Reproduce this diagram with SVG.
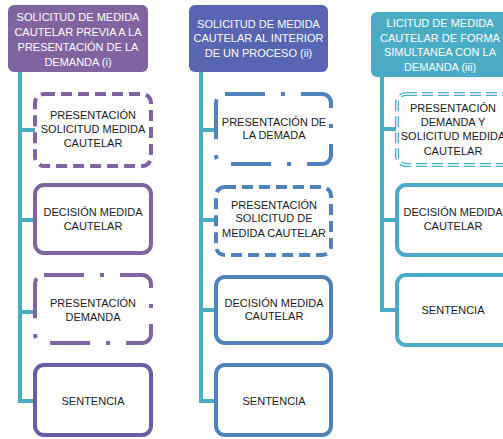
<svg xmlns="http://www.w3.org/2000/svg" width="503" height="439" viewBox="0 0 503 439">
<style>
text{font-family:"Liberation Sans",Arial,sans-serif;font-size:11px;text-anchor:middle;fill:#1a1a1a}
.h text{fill:#fff}
.box{fill:#fff;stroke-width:4}
.p{stroke:#8064A2}
.b{stroke:#4F81BD}
.c{stroke:#4BACC6}
.dash{stroke-dasharray:11 6}
.dd{stroke-dasharray:40 16 4 16}
.conn{fill:none;stroke:#4BACC6;stroke-width:4}
</style>
<rect width="503" height="439" fill="#fff"/>
<g id="connectors">
<path class="conn" d="M20 72V401H35M20 130H35M20 220H35M20 312H35"/>
<path class="conn" d="M201 72V401H216M201 130H216M201 220H216M201 310H216"/>
<path class="conn" d="M382 77V310H397M382 129H397M382 220H397"/>
</g>
<g id="h1" class="h"><rect x="8" y="5" width="140" height="67" rx="6" fill="#8064A2"/>
<text x="78" y="20.5">SOLICITUD DE MEDIDA</text><text x="78" y="35.5">CAUTELAR  PREVIA A LA</text><text x="78" y="50.5">PRESENTACIÓN DE LA</text><text x="78" y="65.5">DEMANDA (i)</text></g>
<g id="h2" class="h"><rect x="189" y="5" width="139" height="67" rx="6" fill="#5865B2"/>
<text x="258.5" y="27.5">SOLICITUD DE MEDIDA</text><text x="258.5" y="42">CAUTELAR AL INTERIOR</text><text x="258.5" y="56.5">DE UN PROCESO (ii)</text></g>
<g id="h3" class="h"><rect x="371" y="12" width="139" height="65" rx="6" fill="#4BACC6"/>
<text x="440" y="27">LICITUD DE MEDIDA</text><text x="440" y="41.5">CAUTELAR DE FORMA</text><text x="440" y="56">SIMULTANEA CON LA</text><text x="440" y="70.5">DEMANDA (iii)</text></g>
<g id="n1a"><rect class="box p dash" x="35" y="94" width="116" height="72" rx="9"/>
<text x="93" y="118.5">PRESENTACIÓN</text><text x="93" y="132.5">SOLICITUD MEDIDA</text><text x="93" y="146.5">CAUTELAR</text></g>
<g id="n1b"><rect class="box p" x="35" y="185" width="116" height="68" rx="9"/>
<text x="93" y="215.5">DECISIÓN MEDIDA</text><text x="93" y="230">CAUTELAR</text></g>
<g id="n1c"><rect class="box p dd" x="35" y="275" width="116" height="68" rx="9"/>
<text x="93" y="306.5">PRESENTACIÓN</text><text x="93" y="320.5">DEMANDA</text></g>
<g id="n1d"><rect class="box" stroke="#6A5CAB" x="35" y="365" width="116" height="70" rx="9"/>
<text x="93" y="405">SENTENCIA</text></g>
<g id="n2a"><rect class="box b dd" x="216" y="94" width="115" height="70" rx="9"/>
<text x="274" y="125.5">PRESENTACIÓN DE</text><text x="274" y="139">LA DEMADA</text></g>
<g id="n2b"><rect class="box b dash" x="216" y="187" width="115" height="68" rx="9"/>
<text x="274" y="208.5">PRESENTACIÓN</text><text x="274" y="222">SOLICITUD DE</text><text x="274" y="236.5">MEDIDA CAUTELAR</text></g>
<g id="n2c"><rect class="box b" x="216" y="277" width="115" height="66" rx="9"/>
<text x="274" y="306.5">DECISIÓN MEDIDA</text><text x="274" y="320">CAUTELAR</text></g>
<g id="n2d"><rect class="box b" x="216" y="365" width="115" height="70" rx="9"/>
<text x="274" y="405">SENTENCIA</text></g>
<g id="n3a"><rect class="box c" stroke-width="5" stroke-dasharray="11 5" x="397" y="94" width="116" height="71" rx="9"/>
<rect x="397" y="94" width="116" height="71" rx="9" fill="none" stroke="#fff" stroke-width="1.4"/>
<text x="453" y="111.5">PRESENTACIÓN</text><text x="453" y="126">DEMANDA Y</text><text x="453" y="140">SOLICITUD MEDIDA</text><text x="453" y="154.5">CAUTELAR</text></g>
<g id="n3b"><rect class="box c" x="397" y="185" width="116" height="70" rx="9"/>
<text x="453" y="215.5">DECISIÓN MEDIDA</text><text x="453" y="230">CAUTELAR</text></g>
<g id="n3c"><rect class="box c" x="397" y="275" width="116" height="70" rx="9"/>
<text x="453" y="314">SENTENCIA</text></g>
</svg>
